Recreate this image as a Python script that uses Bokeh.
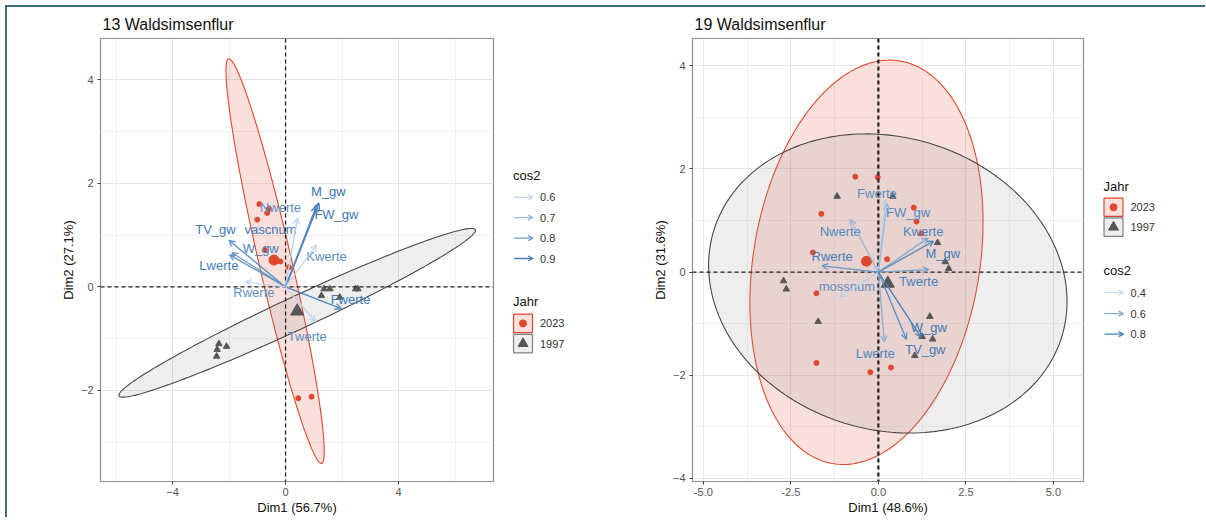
import numpy as np
from bokeh.plotting import figure
from bokeh.layouts import row
from bokeh.models import Range1d, FixedTicker, Span, Arrow, OpenHead, PrintfTickFormatter
from bokeh.embed import file_html
from bokeh.resources import INLINE
from bokeh.core.properties import value

FONT = "Liberation Sans"
RED = "#E0482D"
GREY = "#565656"
FRAME = "#3E6A85"

# ---------------- Panel 1: 13 Waldsimsenflur ----------------
p1_title = "13 Waldsimsenflur"
p1_xlabel = "Dim1 (56.7%)"
p1_ylabel = "Dim2 (27.1%)"
p1_x2023 = [-0.93, -0.65, -0.59, -1.00, -0.73, -0.18, 0.12, 0.45, 0.92]
p1_y2023 = [1.60, 1.43, 1.51, 1.30, 0.71, 0.49, 0.38, -2.15, -2.12]
p1_x1997 = [1.36, 1.57, 1.27, 1.92, 2.48, 2.56, -2.36, -2.09, -2.42, -2.44]
p1_y1997 = [-0.04, -0.04, -0.17, -0.20, -0.04, -0.04, -1.10, -1.15, -1.21, -1.34]
p1_cent_x = [-0.41, 0.41]
p1_cent_y = [0.52, -0.47]
p1_var = ["M_gw", "FW_gw", "Nwerte", "vascnum", "Kwerte", "TV_gw", "W_gw", "Lwerte", "Rwerte", "Fwerte", "Twerte"]
p1_var_x = [1.18, 1.08, 0.42, 1.12, 1.10, -2.00, -1.90, -1.98, -1.42, 1.97, 1.06]
p1_var_y = [1.62, 1.55, 1.33, 1.58, 0.81, 0.90, 0.66, 0.62, 0.10, -0.42, -0.67]
p1_cos2 = [0.93, 0.90, 0.62, 0.86, 0.60, 0.85, 0.80, 0.83, 0.60, 0.88, 0.62]
p1_lab_x = [1.51, 1.80, -0.18, -0.53, 1.45, -2.48, -0.88, -2.36, -1.12, 2.30, 0.77]
p1_lab_y = [1.84, 1.39, 1.53, 1.10, 0.58, 1.10, 0.75, 0.41, -0.10, -0.25, -0.96]
p1_cos2_range = [0.57, 0.94]
p1_cos2_ticks = [0.6, 0.7, 0.8, 0.9]
# confidence ellipses: centre x, centre y, sd x, sd y, correlation
p1_ell_2023 = [-0.37, 0.50, 1.74, 3.91, -0.940]
p1_ell_1997 = [0.41, -0.50, 6.31, 1.63, 0.977]
p1_xticks = [-4, 0, 4]
p1_xminor = [-6, -2, 2, 6]
p1_yticks = [-2, 0, 2, 4]
p1_yminor = [-3, -1, 1, 3]

# ---------------- Panel 2: 19 Waldsimsenflur ----------------
p2_title = "19 Waldsimsenflur"
p2_xlabel = "Dim1 (48.6%)"
p2_ylabel = "Dim2 (31.6%)"
p2_x2023 = [-0.66, -0.02, -1.63, 1.01, 1.09, 1.23, 0.25, -1.87, -1.77, -1.77, -0.23, 0.36]
p2_y2023 = [1.85, 1.84, 1.13, 1.25, 0.98, 0.75, 0.25, 0.38, -0.41, -1.76, -1.94, -1.85]
p2_x1997 = [-1.18, 0.41, 1.69, 1.91, 2.01, -2.71, -2.63, -1.72, 1.47, 1.25, 1.55, 1.04]
p2_y1997 = [1.47, 1.47, 0.57, 0.20, 0.07, -0.17, -0.33, -0.96, -0.86, -1.25, -1.30, -1.62]
p2_cent_x = [-0.34, 0.27]
p2_cent_y = [0.21, -0.22]
p2_var = ["Fwerte", "FW_gw", "Nwerte", "Kwerte", "M_gw", "Rwerte", "Twerte", "mossnum", "Lwerte", "W_gw", "TV_gw"]
p2_var_x = [0.20, 0.25, -0.80, 1.42, 1.58, -1.61, 1.44, -1.10, 0.17, 1.22, 0.80]
p2_var_y = [1.40, 1.33, 1.02, 0.66, 0.60, 0.12, 0.05, -0.48, -1.35, -1.26, -1.30]
p2_cos2 = [0.45, 0.55, 0.55, 0.62, 0.75, 0.70, 0.65, 0.45, 0.60, 0.80, 0.75]
p2_lab_x = [-0.04, 0.85, -1.09, 1.28, 1.84, -1.32, 1.15, -0.90, -0.09, 1.44, 1.34]
p2_lab_y = [1.52, 1.15, 0.79, 0.78, 0.37, 0.31, -0.19, -0.28, -1.58, -1.07, -1.51]
p2_cos2_range = [0.38, 0.85]
p2_cos2_ticks = [0.4, 0.6, 0.8]
p2_ell_2023 = [-0.34, 0.19, 3.33, 3.92, 0.199]
p2_ell_1997 = [0.27, -0.22, 5.12, 2.90, -0.121]
p2_xticks = [-5.0, -2.5, 0.0, 2.5, 5.0]
p2_xminor = [-3.75, -1.25, 1.25, 3.75]
p2_yticks = [-4, -2, 0, 2, 4]
p2_yminor = [-3, -1, 1, 3]

years = ["2023", "1997"]

# layout (page pixels)
TOP = 7            # top of figures on the page
H = 510
MB_TOP = 31
MB_BOT = H - MB_TOP - 445
FRAME_TOP = TOP + MB_TOP
FRAME_BOT = FRAME_TOP + 445


def cos2_color(c, rng):
    t = min(max((c - rng[0]) / (rng[1] - rng[0]), 0.0), 1.0)
    lo = (0xCF, 0xE1, 0xF2)
    hi = (0x35, 0x74, 0xB2)
    rgb = [round(a + (b - a) * t) for a, b in zip(lo, hi)]
    return "#%02x%02x%02x" % tuple(rgb)


def label_color(c, rng):
    t = min(max((c - rng[0]) / (rng[1] - rng[0]), 0.0), 1.0)
    return cos2_color(rng[0] + (0.72 + 0.28 * t) * (rng[1] - rng[0]), rng)


def ellipse(params, n=240):
    cx, cy, sx, sy, r = params
    t = np.linspace(0, 2 * np.pi, n)
    x = cx + sx * np.cos(t)
    y = cy + sy * (r * np.cos(t) + np.sqrt(1 - r * r) * np.sin(t))
    return x, y


def panel(width, ml, mr, xr, yr, title, xlabel, ylabel, xticks, xminor, yticks, yminor,
          e23, e97, x23, y23, x97, y97, cx, cy, var, vx, vy, cos2, lx, ly, crng,
          vthick, xfmt=None):
    p = figure(width=width, height=H, x_range=Range1d(*xr), y_range=Range1d(*yr),
               output_backend="svg", toolbar_location=None,
               min_border_left=ml, min_border_right=mr, min_border_top=MB_TOP,
               min_border_bottom=MB_BOT)
    p.title.text = title
    p.title.text_font = FONT
    p.title.text_font_size = "16px"
    p.title.text_font_style = "normal"
    p.title.text_color = "#111111"
    p.title.align = "left"
    p.title.offset = 2
    p.title.standoff = 11
    p.outline_line_color = "#8c8c8c"
    p.outline_line_width = 1.2
    p.background_fill_color = "white"
    p.border_fill_color = "white"

    p.xaxis.ticker = FixedTicker(ticks=xticks, minor_ticks=xminor)
    p.yaxis.ticker = FixedTicker(ticks=yticks, minor_ticks=yminor)
    if xfmt:
        p.xaxis.formatter = PrintfTickFormatter(format=xfmt)
    for ax in (p.xaxis, p.yaxis):
        ax.axis_line_color = None
        ax.minor_tick_line_color = None
        ax.major_tick_in = 0
        ax.major_tick_out = 3
        ax.major_tick_line_color = "#333333"
        ax.major_label_text_font = FONT
        ax.major_label_text_font_size = "11px"
        ax.major_label_text_color = "#555555"
        ax.axis_label_text_font = FONT
        ax.axis_label_text_font_size = "13px"
        ax.axis_label_text_font_style = "normal"
        ax.axis_label_text_color = "#111111"
    p.xaxis.major_label_standoff = 2
    p.xaxis.axis_label_standoff = 1
    p.yaxis.major_label_standoff = 3
    p.yaxis.axis_label_standoff = 2
    p.xaxis.axis_label = xlabel
    p.yaxis.axis_label = ylabel
    for g in (p.xgrid, p.ygrid):
        g.grid_line_color = "#e6e6e6"
        g.grid_line_width = 1
        g.minor_grid_line_color = "#f1f1f1"
        g.minor_grid_line_width = 1

    # ellipses
    ex, ey = ellipse(e23)
    p.patch(ex, ey, fill_color=RED, fill_alpha=0.17, line_color=RED, line_width=1.1)
    ex, ey = ellipse(e97)
    p.patch(ex, ey, fill_color="#8a8a8a", fill_alpha=0.15, line_color="#474747", line_width=1.1)

    # reference lines
    p.add_layout(Span(location=0, dimension="width", line_color="#222222", line_dash="4 3", line_width=1.1))
    p.add_layout(Span(location=0, dimension="height", line_color="#222222", line_dash="4 3", line_width=vthick))

    # individuals
    p.scatter(x23, y23, marker="circle", size=5, color=RED)
    p.scatter(x97, y97, marker="triangle", size=6.5, color=GREY)
    p.scatter([cx[0]], [cy[0]], marker="circle", size=10, color=RED)
    p.scatter([cx[1]], [cy[1]], marker="triangle", size=13, color=GREY)

    # variables
    for i in range(len(var)):
        col = cos2_color(cos2[i], crng)
        p.add_layout(Arrow(x_start=0, y_start=0, x_end=vx[i], y_end=vy[i],
                           line_color=col, line_width=1.3,
                           end=OpenHead(size=6, line_color=col, line_width=1.3)))
    p.text(x=lx, y=ly, text=var, text_color=[label_color(c, crng) for c in cos2],
           text_font=value(FONT), text_font_size="13px", text_align="center",
           text_baseline="middle")
    return p


def legend_fig(x0page, width, order, cos2_ticks, crng, pos):
    # legend drawn in page-pixel coordinates
    lf = figure(width=width, height=H, x_range=Range1d(x0page, x0page + width),
                y_range=Range1d(FRAME_BOT, FRAME_TOP),
                x_axis_type=None, y_axis_type=None, output_backend="svg",
                toolbar_location=None, min_border_left=0, min_border_right=0,
                min_border_top=MB_TOP, min_border_bottom=MB_BOT, outline_line_color=None)
    lf.grid.visible = False
    lx = pos["x"]
    for block in order:
        b = pos[block]
        if block == "cos2":
            lf.text(x=[lx], y=[b["title"]], text=["cos2"], text_font=value(FONT), text_font_size="13px",
                    text_color="#111111", text_baseline="middle", text_align="left")
            for k, c in enumerate(cos2_ticks):
                yy = b["rows"][k]
                col = cos2_color(c, crng)
                lf.add_layout(Arrow(x_start=lx + 1, y_start=yy, x_end=lx + 20, y_end=yy,
                                    line_color=col, line_width=1.3,
                                    end=OpenHead(size=5, line_color=col, line_width=1.3)))
                lf.text(x=[lx + 27], y=[yy], text=["%.1f" % c], text_font=value(FONT),
                        text_font_size="11px", text_color="#333333", text_baseline="middle")
        else:
            lf.text(x=[lx], y=[b["title"]], text=["Jahr"], text_font=value(FONT), text_font_size="13px",
                    text_color="#111111", text_baseline="middle", text_align="left")
            for k, yr in enumerate(years):
                yy = b["rows"][k]
                is23 = yr == "2023"
                col = RED if is23 else GREY
                lf.rect(x=[lx + 10], y=[yy], width=19, height=18.5,
                        fill_color=RED if is23 else "#8a8a8a",
                        fill_alpha=0.17 if is23 else 0.15,
                        line_color=RED if is23 else "#808080", line_width=1.2)
                lf.scatter([lx + 10], [yy], marker="circle" if is23 else "triangle",
                           size=7 if is23 else 10, color=col)
                lf.text(x=[lx + 27], y=[yy], text=[yr], text_font=value(FONT),
                        text_font_size="11px", text_color="#333333", text_baseline="middle")
    return lf


X0 = 7
W1, WL1, W2, WL2 = 493, 120, 466, 119
f1 = panel(W1, 93, 7, (-6.55, 7.36), (-3.76, 4.80), p1_title, p1_xlabel, p1_ylabel,
           p1_xticks, p1_xminor, p1_yticks, p1_yminor, p1_ell_2023, p1_ell_1997,
           p1_x2023, p1_y2023, p1_x1997, p1_y1997, p1_cent_x, p1_cent_y,
           p1_var, p1_var_x, p1_var_y, p1_cos2, p1_lab_x, p1_lab_y, p1_cos2_range, 1.3)
l1 = legend_fig(X0 + W1, WL1, ["cos2", "Jahr"], p1_cos2_ticks, p1_cos2_range,
                {"x": 512.5,
                 "cos2": {"title": 175.5, "rows": [197.5, 218.0, 238.5, 259.0]},
                 "Jahr": {"title": 302.5, "rows": [324.2, 344.5]}})
f2 = panel(W2, 72, 3, (-5.31, 5.86), (-4.06, 4.53), p2_title, p2_xlabel, p2_ylabel,
           p2_xticks, p2_xminor, p2_yticks, p2_yminor, p2_ell_2023, p2_ell_1997,
           p2_x2023, p2_y2023, p2_x1997, p2_y1997, p2_cent_x, p2_cent_y,
           p2_var, p2_var_x, p2_var_y, p2_cos2, p2_lab_x, p2_lab_y, p2_cos2_range, 2.2,
           xfmt="%.1f")
l2 = legend_fig(X0 + W1 + WL1 + W2, WL2, ["Jahr", "cos2"], p2_cos2_ticks, p2_cos2_range,
                {"x": 1103,
                 "Jahr": {"title": 186.5, "rows": [207.5, 227.5]},
                 "cos2": {"title": 271.5, "rows": [293.3, 314.3, 335.0]}})

layout = row(f1, l1, f2, l2, spacing=0,
             styles={"border-top": "2px solid " + FRAME, "border-left": "2px solid " + FRAME,
                     "margin-left": "5px", "margin-top": "5px"})

open("out.html", "w").write(file_html(layout, INLINE))
